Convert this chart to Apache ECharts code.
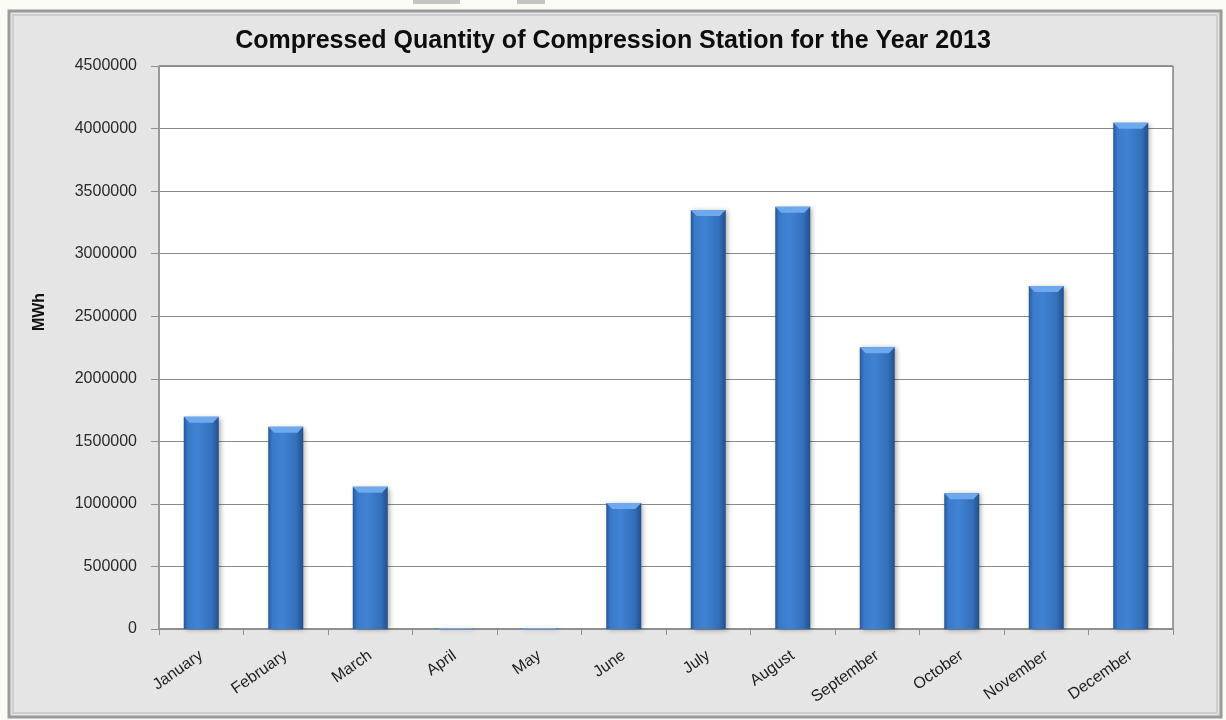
<!DOCTYPE html>
<html>
<head>
<meta charset="utf-8">
<title>Compressed Quantity of Compression Station for the Year 2013</title>
<script src="https://cdn.jsdelivr.net/npm/echarts@6/dist/echarts.min.js"></script>
<style>
  html, body { margin: 0; padding: 0; background: #fbfbf6; }
  #chart { width: 1226px; height: 720px; }
</style>
</head>
<body>
<div id="chart"></div>
<script>
// Monthly compressed quantity (MWh)
const months = ['January', 'February', 'March', 'April', 'May', 'June',
  'July', 'August', 'September', 'October', 'November', 'December'];
const quantity = [1697000, 1617000, 1137000, 8000, 8000, 1008000,
  3349000, 3375000, 2252000, 1085000, 2742000, 4047000];
const yTicks = [0, 500000, 1000000, 1500000, 2000000, 2500000, 3000000, 3500000, 4000000, 4500000];

const chart = echarts.init(document.getElementById('chart'), null, { renderer: 'canvas' });

const BAR_W = 35;
const CAP_H = 6;

const barFill = new echarts.graphic.LinearGradient(0, 0, 1, 0, [
  { offset: 0, color: '#275796' },
  { offset: 0.12, color: '#3a7acb' },
  { offset: 0.4, color: '#4083d3' },
  { offset: 0.8, color: '#3470bb' },
  { offset: 1, color: '#234f8a' }
]);

// light bevelled cap at the top of each column, never taller than the column
function renderCap(params, api) {
  const top = api.coord([api.value(0), api.value(1)]);
  const base = api.coord([api.value(0), 0]);
  const h = Math.min(CAP_H, base[1] - top[1]);
  if (h <= 0) return null;
  const x0 = top[0] - BAR_W / 2;
  const x1 = top[0] + BAR_W / 2;
  const inset = h;
  return {
    type: 'polygon',
    shape: { points: [[x0, top[1]], [x1, top[1]], [x1 - inset, top[1] + h], [x0 + inset, top[1] + h]] },
    style: { fill: '#6ea9ee' },
    z2: 5
  };
}

chart.setOption({
  animation: false,
  backgroundColor: 'transparent',
  textStyle: { fontFamily: 'Liberation Sans, Arial, sans-serif' },
  title: {
    text: 'Compressed Quantity of Compression Station for the Year 2013',
    left: 'center',
    top: 24,
    textStyle: {
      fontFamily: 'Liberation Sans, Arial, sans-serif',
      fontSize: 25,
      fontWeight: 'bold',
      color: '#0d0d0d'
    }
  },
  graphic: [
    // outer frame
    { type: 'rect', z: -10, silent: true,
      shape: { x: 9, y: 11, width: 1212, height: 706 },
      style: { fill: '#e5e5e5', stroke: '#9a9a9a', lineWidth: 3 } },
    { type: 'rect', z: -9, silent: true,
      shape: { x: 13, y: 15, width: 1204, height: 698 },
      style: { fill: 'none', stroke: '#cdcdcd', lineWidth: 2 } },
    { type: 'rect', z: -9, silent: true,
      shape: { x: 413, y: 0, width: 47, height: 4 },
      style: { fill: '#c4c4c4' } },
    { type: 'rect', z: -9, silent: true,
      shape: { x: 517, y: 0, width: 28, height: 4 },
      style: { fill: '#c4c4c4' } },
    // y axis unit
    { type: 'text', silent: true,
      x: 40, y: 312, rotation: Math.PI / 2,
      style: { text: 'MWh', fontSize: 16, fontWeight: 'bold', fill: '#111',
        fontFamily: 'Liberation Sans, Arial, sans-serif',
        align: 'center', verticalAlign: 'middle' } }
  ],
  grid: {
    left: 159, right: 53, top: 66, bottom: 91,
    show: true, backgroundColor: '#ffffff',
    borderColor: '#4a4a4a', borderWidth: 1
  },
  xAxis: {
    type: 'category',
    data: months,
    axisLine: { lineStyle: { color: '#8f8f8f', width: 2 } },
    axisTick: { show: true, length: 6, lineStyle: { color: '#8f8f8f' } },
    axisLabel: {
      interval: 0, rotate: 35, margin: 25,
      fontSize: 16, color: '#1e1e1e'
    }
  },
  yAxis: {
    type: 'value',
    min: yTicks[0],
    max: yTicks[yTicks.length - 1],
    interval: yTicks[1] - yTicks[0],
    axisLine: { show: true, lineStyle: { color: '#9a9a9a', width: 1.5 } },
    axisTick: { show: true, length: 8, lineStyle: { color: '#8f8f8f' } },
    axisLabel: { margin: 22, fontSize: 16, color: '#2a2a2a',
      formatter: v => String(v) },
    splitLine: { lineStyle: { color: '#8a8a8a', width: 1 } }
  },
  series: [
    {
      type: 'bar',
      data: quantity,
      barWidth: BAR_W,
      itemStyle: {
        color: barFill,
        shadowColor: 'rgba(0,0,0,0.35)',
        shadowBlur: 5,
        shadowOffsetX: 2,
        shadowOffsetY: 1
      },
      z: 2
    },
    {
      type: 'custom',
      renderItem: renderCap,
      data: quantity.map((v, i) => [i, v]),
      encode: { x: 0, y: 1 },
      silent: true,
      z: 3
    }
  ]
});
</script>
</body>
</html>
